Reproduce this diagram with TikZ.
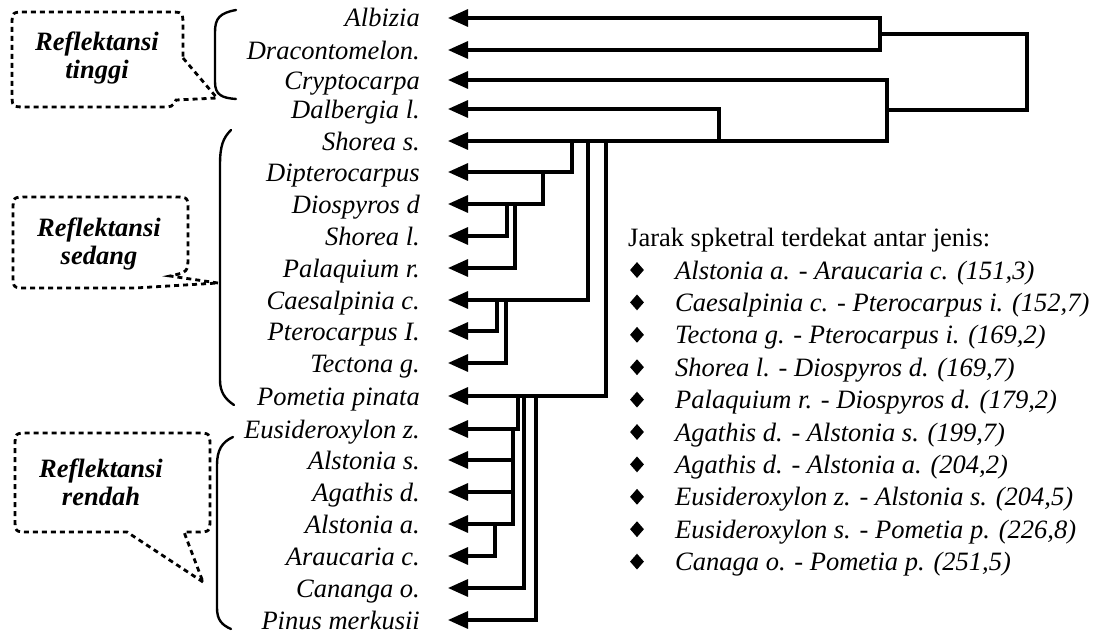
\documentclass[tikz,border=0pt]{standalone}
\usepackage{fontspec}
\setmainfont{Liberation Serif}
\usetikzlibrary{arrows.meta,shapes.geometric}
\begin{document}
\begin{tikzpicture}[x=1pt,y=-1pt,
  ln/.style={line width=3.2pt, line join=miter},
  arr/.style={ln, -{Triangle[length=20pt,width=17pt]}},
  brk/.style={line width=2.4pt, line cap=round},
  callout/.style={line width=2.8pt, dash pattern=on 5pt off 4pt},
  sp/.style={font=\fontsize{26.5}{28}\selectfont\itshape, anchor=base east, inner sep=0pt},
  lbl/.style={font=\fontsize{26.5}{28}\selectfont\bfseries\itshape, align=center, inner sep=0pt},
  leg/.style={font=\fontsize{26.5}{28}\selectfont\itshape, anchor=base west, inner sep=0pt},
  hdr/.style={font=\fontsize{26.5}{28}\selectfont, anchor=base west, inner sep=0pt},
  dia/.style={diamond, fill=black, draw=none, inner sep=0pt, minimum width=14pt, minimum height=16pt}]
\useasboundingbox (0,0) rectangle (1105,637);
\fill[white] (0,0) rectangle (1105,637);

% species labels and arrow tips
\foreach \i/\y/\t in {1/18/Albizia, 2/50/Dracontomelon., 3/80/Cryptocarpa, 4/109/Dalbergia l.,
  5/141/Shorea s., 6/172/Dipterocarpus, 7/204/Diospyros d, 8/236/Shorea l., 9/268/Palaquium r.,
  10/300/Caesalpinia c., 11/331/Pterocarpus I., 12/363/Tectona g., 13/396/Pometia pinata,
  14/429/Eusideroxylon z., 15/460/Alstonia s., 16/492/Agathis d., 17/524/Alstonia a.,
  18/556/Araucaria c., 19/588/Cananga o., 20/620/Pinus merkusii}{
  \node[sp] (n\i) at (420,\y+9) {\t};
  \coordinate (t\i) at (448,\y);
}

% junctions
\coordinate (jA) at (880,34);
\coordinate (r1) at (1027,34);
\coordinate (r2) at (1027,110);
\coordinate (jB) at (887,110);
\coordinate (jC) at (719,141);
\coordinate (jD) at (572,141);
\coordinate (jE) at (543,172);
\coordinate (jF) at (507,204);
\coordinate (jG) at (515,204);
\coordinate (jH) at (588,141);
\coordinate (jI) at (497,300);
\coordinate (jJ) at (506,300);
\coordinate (jK) at (606,141);
\coordinate (jL) at (518,396);
\coordinate (jM) at (513,429);
\coordinate (jN) at (495,524);
\coordinate (jO) at (524,396);
\coordinate (jP) at (536,396);

% dendrogram
\draw[arr] (jA) |- (t1);
\draw[arr] (jA) |- (t2);
\draw[ln] (jA) -- (r1) -- (r2) -- (jB);
\draw[arr] (jB) |- (t3);
\draw[arr] (jB) |- (t5);
\draw[arr] (jC) |- (t4);
\draw[arr] (jD) |- (t6);
\draw[arr] (jE) |- (t7);
\draw[arr] (jF) |- (t8);
\draw[arr] (jG) |- (t9);
\draw[arr] (jH) |- (t10);
\draw[arr] (jI) |- (t11);
\draw[arr] (jJ) |- (t12);
\draw[arr] (jK) |- (t13);
\draw[arr] (jL) |- (t14);
\draw[arr] (jM) |- (t15);
\draw[arr] (jM) |- (t16);
\draw[arr] (jM) |- (t17);
\draw[arr] (jN) |- (t18);
\draw[arr] (jO) |- (t19);
\draw[arr] (jP) |- (t20);

% brackets
\draw[brk] (236,10) .. controls (220,13) and (215,18) .. (215,32) -- (215,82) .. controls (215,95) and (222,98) .. (236,99);
\draw[brk] (231,130) .. controls (223,138) and (220,146) .. (220,165) -- (220,380) .. controls (220,392) and (225,399) .. (234,405);
\draw[brk] (233,437) .. controls (222,442) and (217,450) .. (217,465) -- (217,608) .. controls (217,620) and (222,625) .. (231,629);

% callouts
\draw[callout] (183,58) -- (217,98) -- (176,100) .. controls (172,107) .. (162,107) -- (26,107)
  .. controls (12,107) .. (12,93) -- (12,26) .. controls (12,12) .. (26,12) -- (169,12)
  .. controls (183,12) .. (183,26) -- cycle;
\draw[callout] (218,283) -- (170,276) .. controls (188,272) .. (188,256) -- (188,211)
  .. controls (188,197) .. (174,197) -- (27,197) .. controls (13,197) .. (13,211) -- (13,274)
  .. controls (13,288) .. (27,288) -- (135,288) -- cycle;
\draw[callout] (203,582) -- (127,532) -- (29,532) .. controls (15,532) .. (15,518) -- (15,447)
  .. controls (15,433) .. (29,433) -- (196,433) .. controls (210,433) .. (210,447) -- (210,518)
  .. controls (210,532) .. (196,532) -- (184,532) -- cycle;

\node[lbl] (b1) at (97,58) {Reflektansi\\tinggi};
\node[lbl] (b2) at (99,244) {Reflektansi\\sedang};
\node[lbl] (b3) at (101,482) {Reflektansi\\rendah};

% legend
\node[hdr] (hd) at (628,246) {Jarak spketral terdekat antar jenis:};
\foreach \k/\t in {0/{Alstonia a. - Araucaria c. (151,3)}, 1/{Caesalpinia c. - Pterocarpus i. (152,7)},
  2/{Tectona g. - Pterocarpus i. (169,2)}, 3/{Shorea l. - Diospyros d. (169,7)},
  4/{Palaquium r. - Diospyros d. (179,2)}, 5/{Agathis d. - Alstonia s. (199,7)},
  6/{Agathis d. - Alstonia a. (204,2)}, 7/{Eusideroxylon z. - Alstonia s. (204,5)},
  8/{Eusideroxylon s. - Pometia p. (226,8)}, 9/{Canaga o. - Pometia p. (251,5)}}{
  \node[dia] (d\k) at (637,270+32.4*\k) {};
  \node[leg] (l\k) at (675,279+32.4*\k) {\t};
}
\end{tikzpicture}
\end{document}
